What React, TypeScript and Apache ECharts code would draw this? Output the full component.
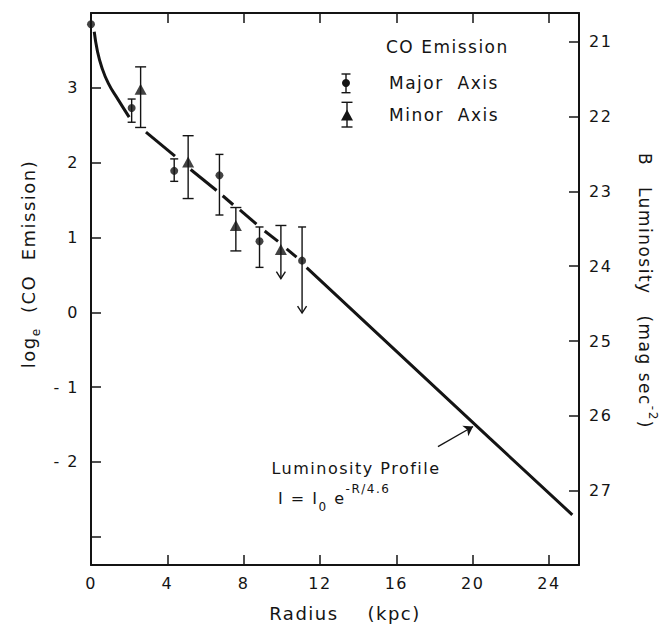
import React, { useEffect, useRef } from 'react';
import * as echarts from 'echarts';

// ---- axis ticks ----
const xTickValues = [0, 4, 8, 12, 16, 20, 24];
const leftTickLabels = [-2, -1, 0, 1, 2, 3];
const rightTickLabels = [21, 22, 23, 24, 25, 26, 27];

// ---- CO emission, major axis (circles) ----
const majorR = [0, 2.13, 4.36, 6.73, 8.83, 11.06];
const majorLogCO = [3.85, 2.73, 1.89, 1.83, 0.95, 0.69];
const majorErrLow = [null, 2.54, 1.75, 1.3, 0.6, -0.01];
const majorErrHigh = [null, 2.85, 2.05, 2.11, 1.14, 1.14];
const majorUpperLimit = [0, 0, 0, 0, 0, 1];

// ---- CO emission, minor axis (triangles) ----
const minorR = [2.6, 5.09, 7.59, 9.95];
const minorLogCO = [2.98, 2.01, 1.16, 0.84];
const minorErrLow = [2.47, 1.52, 0.82, 0.45];
const minorErrHigh = [3.28, 2.36, 1.4, 1.16];
const minorUpperLimit = [0, 0, 0, 1];

// ---- B luminosity profile (mag sec^-2, right axis) ----
const profileCurveR = [0.17, 0.33, 0.56, 0.91, 1.43, 2.0];
const profileCurveMag = [20.87, 21.12, 21.34, 21.56, 21.78, 22.01];
const profileR = [2.88, 4.4, 5.22, 6.58, 6.9, 7.45, 7.8, 8.67, 9.1, 9.8, 10.25, 10.77, 11.3, 20.9, 25.22];
const profileMag = [22.21, 22.53, 22.71, 22.99, 23.06, 23.18, 23.25, 23.44, 23.53, 23.67, 23.77, 23.88, 24.02, 26.3, 27.32];
const profileSegments = [[0, 1], [2, 3], [4, 5], [6, 7], [8, 9], [10, 11], [12, 14]];

// ---- annotation arrow (R, mag) ----
const arrowFrom = [18.18, 26.41];
const arrowTo = [20.02, 26.14];

const INK = '#141414';
const FONT = "'DejaVu Sans', sans-serif";
const LS = 1.5; // letter spacing (px) applied to svg text via CSS
const SP = '\u00A0'; // non-collapsing space

const isInt = (v: number) => Math.abs(v - Math.round(v)) < 1e-6;

// rich token style that reserves room for the CSS letter spacing
const tok = (
  text: string,
  fontSize: number,
  lineHeight: number,
  mode: 'left' | 'center',
  verticalAlign?: string,
) => {
  const p = text.length * LS;
  return {
    fontSize,
    lineHeight,
    fontFamily: FONT,
    fill: INK,
    ...(verticalAlign ? { verticalAlign } : {}),
    padding: mode === 'left' ? [0, p, 0, 0] : [0, p / 2, 0, p / 2],
  };
};

function errorRender(capHalf: number) {
  return (params: any, api: any) => {
    const r = api.value(0);
    const lo = api.value(1);
    const hi = api.value(2);
    const lim = api.value(3);
    const top = api.coord([r, hi]);
    const bot = api.coord([r, lo]);
    const style = { stroke: INK, lineWidth: 1.4, fill: 'none' };
    const children: any[] = [
      { type: 'line', shape: { x1: top[0], y1: top[1], x2: bot[0], y2: bot[1] }, style },
      { type: 'line', shape: { x1: top[0] - capHalf, y1: top[1], x2: top[0] + capHalf, y2: top[1] }, style },
    ];
    if (lim) {
      children.push({
        type: 'polyline',
        shape: { points: [[bot[0] - 4.5, bot[1] - 7], [bot[0], bot[1]], [bot[0] + 4.5, bot[1] - 7]] },
        style,
      });
    } else {
      children.push({ type: 'line', shape: { x1: bot[0] - capHalf, y1: bot[1], x2: bot[0] + capHalf, y2: bot[1] }, style });
    }
    return { type: 'group', children };
  };
}

function buildOption() {
  const majorPts = majorR.map((r, i) => [r, majorLogCO[i]]);
  const minorPts = minorR.map((r, i) => [r, minorLogCO[i]]);
  const majorErr = majorR
    .map((r, i) => [r, majorErrLow[i], majorErrHigh[i], majorUpperLimit[i]])
    .filter((d) => d[1] != null);
  const minorErr = minorR.map((r, i) => [r, minorErrLow[i], minorErrHigh[i], minorUpperLimit[i]]);

  const axisLine = { show: true, onZero: false, lineStyle: { color: INK, width: 2 } };
  const axisTick = { show: true, inside: true, length: 10, lineStyle: { color: INK, width: 1.5 } };
  const labelStyle = { color: INK, fontFamily: FONT, fontSize: 16 };

  const profileSeries = profileSegments.map(([a, b], k) => {
    const data = [];
    for (let i = a; i <= b; i++) data.push([profileR[i], profileMag[i]]);
    const s: any = {
      type: 'line',
      xAxisIndex: 0,
      yAxisIndex: 1,
      data,
      showSymbol: false,
      symbol: 'none',
      lineStyle: { color: INK, width: 3 },
      silent: true,
      z: 1,
    };
    if (k === profileSegments.length - 1) {
      s.markLine = {
        silent: true,
        symbol: ['none', 'arrow'],
        symbolSize: 9,
        label: { show: false },
        lineStyle: { color: INK, width: 1.3, type: 'solid' },
        itemStyle: { color: INK },
        data: [[{ coord: arrowFrom }, { coord: arrowTo }]],
      };
    }
    return s;
  });

  const txt = (x: number, y: number, text: string, extra: any = {}) => ({
    type: 'text',
    x,
    y,
    silent: true,
    style: {
      text,
      fill: INK,
      fontFamily: FONT,
      fontSize: 17,
      align: 'left',
      verticalAlign: 'middle',
      ...extra,
    },
  });

  const ln = (x1: number, y1: number, x2: number, y2: number) => ({
    type: 'line',
    silent: true,
    shape: { x1, y1, x2, y2 },
    style: { stroke: INK, lineWidth: 1.4 },
  });

  const fA = `I${SP}=${SP}I`, fS = '0', fB = `${SP}e`, fP = '-R/4.6';
  const lA = 'log', lS = 'e', lB = `${SP}${SP}(CO${SP}${SP}Emission)`;
  const rA = `B${SP}${SP}${SP}Luminosity${SP}${SP}${SP}(mag${SP}sec`, rP = '-2', rB = ')';

  return {
    animation: false,
    backgroundColor: '#ffffff',
    grid: { left: 91, right: 92, top: 13, bottom: 66 },
    xAxis: [
      {
        type: 'value',
        position: 'bottom',
        min: 0,
        max: 25.57,
        interval: 4,
        axisLine,
        axisTick,
        splitLine: { show: false },
        axisLabel: {
          ...labelStyle,
          margin: 10,
          formatter: (v: number) => (xTickValues.includes(v) ? String(v) : ''),
        },
      },
      {
        type: 'value',
        position: 'top',
        min: 0,
        max: 25.57,
        interval: 4,
        axisLine,
        axisTick,
        splitLine: { show: false },
        axisLabel: { show: false },
      },
    ],
    yAxis: [
      {
        type: 'value',
        position: 'left',
        min: -3.378,
        max: 4.0,
        splitNumber: 7,
        axisLine,
        axisTick,
        splitLine: { show: false },
        axisLabel: {
          ...labelStyle,
          margin: 12,
          formatter: (v: number) => {
            if (!isInt(v)) return '';
            const n = Math.round(v);
            if (!leftTickLabels.includes(n)) return '';
            return n < 0 ? '-' + SP + Math.abs(n) : String(n);
          },
        },
      },
      {
        type: 'value',
        position: 'right',
        inverse: true,
        min: 20.62,
        max: 27.99,
        splitNumber: 7,
        axisLine,
        axisTick,
        splitLine: { show: false },
        axisLabel: {
          ...labelStyle,
          margin: 10,
          formatter: (v: number) => {
            if (!isInt(v)) return '';
            const n = Math.round(v);
            return rightTickLabels.includes(n) ? String(n) : '';
          },
        },
      },
    ],
    series: [
      {
        type: 'line',
        name: 'Luminosity Profile (inner)',
        xAxisIndex: 0,
        yAxisIndex: 1,
        data: profileCurveR.map((r, i) => [r, profileCurveMag[i]]),
        smooth: true,
        showSymbol: false,
        symbol: 'none',
        lineStyle: { color: INK, width: 3 },
        silent: true,
        z: 1,
      },
      ...profileSeries,
      {
        type: 'custom',
        name: 'Major Axis errors',
        xAxisIndex: 0,
        yAxisIndex: 0,
        data: majorErr,
        encode: { x: 0, y: [1, 2] },
        renderItem: errorRender(4),
        silent: true,
        z: 2,
      },
      {
        type: 'custom',
        name: 'Minor Axis errors',
        xAxisIndex: 0,
        yAxisIndex: 0,
        data: minorErr,
        encode: { x: 0, y: [1, 2] },
        renderItem: errorRender(5.5),
        silent: true,
        z: 2,
      },
      {
        type: 'scatter',
        name: 'Major Axis',
        xAxisIndex: 0,
        yAxisIndex: 0,
        data: majorPts,
        symbol: 'circle',
        symbolSize: 8,
        clip: false,
        itemStyle: { color: INK },
        silent: true,
        z: 3,
      },
      {
        type: 'scatter',
        name: 'Minor Axis',
        xAxisIndex: 0,
        yAxisIndex: 0,
        data: minorPts,
        symbol: 'triangle',
        symbolSize: [12, 11],
        itemStyle: { color: INK },
        silent: true,
        z: 3,
      },
    ],
    graphic: {
      elements: [
        // legend
        txt(386, 47, 'CO Emission'),
        ln(346, 74, 346, 92.7),
        ln(341.5, 74, 350.5, 74),
        ln(341.5, 92.7, 350.5, 92.7),
        { type: 'circle', silent: true, shape: { cx: 346, cy: 83, r: 4 }, style: { fill: INK } },
        txt(389, 83, `Major${SP}${SP}Axis`),
        ln(347, 102.3, 347, 127),
        ln(341.5, 102.3, 352.5, 102.3),
        ln(341.5, 127, 352.5, 127),
        {
          type: 'polygon',
          silent: true,
          shape: { points: [[347, 109.5], [341, 120.5], [353, 120.5]] },
          style: { fill: INK },
        },
        txt(389, 115, `Minor${SP}${SP}Axis`),
        // annotation
        txt(356, 468, 'Luminosity Profile', { align: 'center', fontSize: 16 }),
        txt(278, 498, `{fa|${fA}}{fs|${fS}}{fb|${fB}}{fp|${fP}}`, {
          fontSize: 16,
          rich: {
            fa: tok(fA, 16, 30, 'left'),
            fs: tok(fS, 12, 22, 'left', 'bottom'),
            fb: tok(fB, 16, 30, 'left'),
            fp: tok(fP, 12, 6, 'left', 'top'),
          },
        }),
        // axis titles
        txt(345, 613, `Radius${SP}${SP}${SP}${SP}(kpc)`, { align: 'center', fontSize: 18 }),
        {
          ...txt(28, 264, `{la|${lA}}{ls|${lS}}{lb|${lB}}`, {
            align: 'center',
            fontSize: 18,
            rich: {
              la: tok(lA, 18, 28, 'center'),
              ls: tok(lS, 12, 24, 'center', 'bottom'),
              lb: tok(lB, 18, 28, 'center'),
            },
          }),
          rotation: Math.PI / 2,
        },
        {
          ...txt(645, 291, `{ra|${rA}}{rp|${rP}}{rb|${rB}}`, {
            align: 'center',
            rich: {
              ra: tok(rA, 17, 28, 'center'),
              rp: tok(rP, 12, 8, 'center', 'top'),
              rb: tok(rB, 17, 28, 'center'),
            },
          }),
          rotation: -Math.PI / 2,
        },
      ],
    },
  };
}

export default function App() {
  const ref = useRef<HTMLDivElement>(null);
  useEffect(() => {
    if (!ref.current) return;
    const chart = echarts.init(ref.current, null, { renderer: 'svg' });
    chart.setOption(buildOption() as any);
    return () => chart.dispose();
  }, []);
  return (
    <>
      <style>{`#chart text { letter-spacing: ${LS}px; }`}</style>
      <div
        id="chart"
        ref={ref}
        style={{ position: 'absolute', left: 0, top: 0, width: 671, height: 631, background: '#fff' }}
      />
    </>
  );
}
